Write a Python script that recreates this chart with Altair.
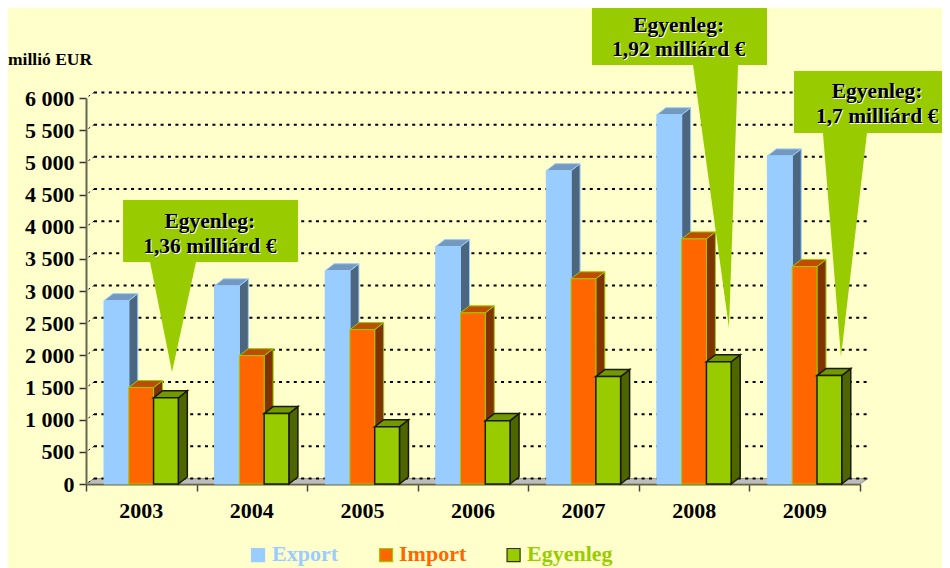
import altair as alt
import pandas as pd

# ---- values ----
YEARS = ["2003", "2004", "2005", "2006", "2007", "2008", "2009"]
EXPORT = [2850, 3080, 3315, 3690, 4870, 5740, 5100]
IMPORT = [1500, 1995, 2400, 2660, 3190, 3810, 3380]
BALANCE = [1340, 1095, 890, 985, 1670, 1900, 1685]
TICKS = [0, 500, 1000, 1500, 2000, 2500, 3000, 3500, 4000, 4500, 5000, 5500, 6000]

BG = "#FFFFCC"
SERIF = "Liberation Serif"

# 3D depth, in axis units (category widths / EUR millions)
DX, DY = 0.0814, 109
FLOOR_DX, FLOOR_DY = 0.0724, 85
BAR_W = 0.224

x_scale = alt.Scale(domain=[0, 7], nice=False, zero=False)
y_scale = alt.Scale(domain=[0, 6000], nice=False, zero=False)

x_axis = alt.Axis(values=list(range(8)), labels=False, tickSize=7, tickColor="#444444",
                  tickWidth=1.5, domainColor="#666633", domainWidth=2, grid=False, ticks=True)
y_axis = alt.Axis(values=TICKS, tickSize=7, tickColor="#333333", tickWidth=1.5,
                  domainColor="#666655", domainWidth=2, grid=False, labelPadding=5,
                  labelFont=SERIF, labelFontWeight="bold", labelFontSize=22,
                  labelColor="black",
                  labelExpr="replace(format(datum.value, ','), ',', ' ')")


def X(field="x"):
    return alt.X(f"{field}:Q", scale=x_scale, title=None, axis=x_axis)


def Y(field="y"):
    return alt.Y(f"{field}:Q", scale=y_scale, title=None, axis=y_axis)


def x2(field="x2"):
    return alt.X2(f"{field}")


def y2(field="y2"):
    return alt.Y2(f"{field}")


def bars(values, left, front, top, side, edge, width):
    fr, si, to = [], [], []
    for i, v in enumerate(values):
        a, b = i + left, i + left + BAR_W
        fr.append({"x": a, "x2": b, "y": 0, "y2": v})
        si.append({"id": i, "x": b, "y": 0, "y2": v})
        si.append({"id": i, "x": b + DX, "y": DY, "y2": v + DY})
        to.append({"id": i, "y": v, "x": a, "x2": b})
        to.append({"id": i, "y": v + DY, "x": a + DX, "x2": b + DX})
    side_l = alt.Chart(pd.DataFrame(si)).mark_area(
        color=side, stroke=edge, strokeWidth=width
    ).encode(x=X(), y=Y(), y2=y2(), detail="id:N")
    top_l = alt.Chart(pd.DataFrame(to)).mark_area(
        orient="horizontal", color=top, stroke=edge, strokeWidth=width
    ).encode(y=Y(), x=X(), x2=x2(), detail="id:N")
    front_l = alt.Chart(pd.DataFrame(fr)).mark_rect(
        color=front, stroke=edge, strokeWidth=width
    ).encode(x=X(), x2=x2(), y=Y(), y2=y2())
    return [side_l, top_l, front_l]


# floor
floor = alt.Chart(pd.DataFrame([
    {"y": 0, "x": 0, "x2": 7},
    {"y": FLOOR_DY, "x": FLOOR_DX, "x2": 7 + FLOOR_DX},
])).mark_area(orient="horizontal", color="#BDBDBD", stroke="#666666", strokeWidth=0.6).encode(
    y=Y(), x=X(), x2=x2()
)

# dotted back-wall grid
grid = alt.Chart(pd.DataFrame({
    "x": [FLOOR_DX] * len(TICKS),
    "x2": [7 + FLOOR_DX] * len(TICKS),
    "y": [t + FLOOR_DY for t in TICKS],
})).mark_rule(color="black", strokeWidth=2, strokeDash=[3, 4.4]).encode(x=X(), x2=x2(), y=Y())

# short dashes joining the axis ticks to the grid
links = alt.Chart(pd.DataFrame({
    "x": [0] * len(TICKS),
    "x2": [FLOOR_DX] * len(TICKS),
    "y": TICKS,
    "y2": [t + FLOOR_DY for t in TICKS],
})).mark_rule(color="black", strokeWidth=1, strokeDash=[2, 3], strokeDashOffset=2).encode(
    x=X(), x2=x2(), y=Y(), y2=y2()
)

export_l = bars(EXPORT, 0.163, "#99CCFF", "#7399BF", "#4D6680", "#99CCFF", 1)
import_l = bars(IMPORT, 0.387, "#FF6600", "#BF4D00", "#803300", "#99CC00", 1)
balance_l = bars(BALANCE, 0.611, "#99CC00", "#739900", "#4D6600", "#1A1A00", 1.5)

# callouts, in axis units
BOX_X = [0.335, 4.576, 6.403]
BOX_X2 = [1.917, 6.159, 7.814]
BOX_TOP = [4415, 7477, 6420]
BOX_BOTTOM = [3451, 6513, 5456]
TAIL_L = [0.579, 5.490, 6.665]
TAIL_R = [0.995, 5.897, 7.063]
TIP_X = [0.778, 5.815, 6.828]
TIP_Y = [1741, 2425, 1974]
LABEL_X = [1.12, 5.36, 7.155]
LINE1_Y = [3979, 7026, 6000]
LINE2_Y = [3591, 6653, 5612]
LINE2 = ["1,36 milliárd €", "1,92 milliárd €", "1,7 milliárd €"]

boxes = alt.Chart(pd.DataFrame({"x": BOX_X, "x2": BOX_X2, "y": BOX_BOTTOM, "y2": BOX_TOP})).mark_rect(
    color="#99CC00"
).encode(x=X(), x2=x2(), y=Y(), y2=y2())

tail_rows = []
for i in range(3):
    tail_rows.append({"id": i, "y": BOX_BOTTOM[i], "x": TAIL_L[i], "x2": TAIL_R[i]})
    tail_rows.append({"id": i, "y": TIP_Y[i], "x": TIP_X[i], "x2": TIP_X[i]})
tails = alt.Chart(pd.DataFrame(tail_rows)).mark_area(orient="horizontal", color="#99CC00").encode(
    y=Y(), x=X(), x2=x2(), detail="id:N"
)

note_df = pd.DataFrame({
    "x": LABEL_X * 2,
    "y": LINE1_Y + LINE2_Y,
    "t": ["Egyenleg:"] * 3 + LINE2,
})
note_style = dict(font=SERIF, fontWeight="bold", fontSize=21.5, align="center", baseline="alphabetic")
note_shadow = alt.Chart(note_df).mark_text(color="white", dx=1, dy=1, **note_style).encode(
    x=X(), y=Y(), text="t:N"
)
note_text = alt.Chart(note_df).mark_text(color="black", **note_style).encode(
    x=X(), y=Y(), text="t:N"
)

# category labels, unit label
years = alt.Chart(pd.DataFrame({
    "x": [i + 0.5 for i in range(len(YEARS))], "y": [-528] * len(YEARS), "t": YEARS,
})).mark_text(font=SERIF, fontWeight="bold", fontSize=22, color="black",
              align="center", baseline="alphabetic").encode(x=X(), y=Y(), text="t:N")

unit = alt.Chart(pd.DataFrame({"x": [-0.705], "y": [6510], "t": ["millió EUR"]})).mark_text(
    font=SERIF, fontWeight="bold", fontSize=17.5, color="black", align="left", baseline="alphabetic"
).encode(x=X(), y=Y(), text="t:N")

# hand-built legend (each label has its series' colour)
LEG_NAMES = ["Export", "Import", "Egyenleg"]
LEG_FILL = ["#99CCFF", "#FF6600", "#99CC00"]
LEG_EDGE = ["#99CCFF", "#99CC00", "#333300"]
LEG_TEXT = ["#99CCFF", "#FF6600", "#99CC00"]
LEG_SWATCH_X = [1.556, 2.714, 3.867]
LEG_TEXT_X = [1.682, 2.831, 3.988]

swatches = alt.Chart(pd.DataFrame({
    "x": LEG_SWATCH_X, "y": [-1104] * 3, "f": LEG_FILL, "e": LEG_EDGE,
})).mark_point(shape="square", filled=True, size=170, strokeWidth=1.2, opacity=1).encode(
    x=X(), y=Y(),
    fill=alt.Fill("f:N", scale=None),
    stroke=alt.Stroke("e:N", scale=None),
)
leg_text = alt.Chart(pd.DataFrame({
    "x": LEG_TEXT_X, "y": [-1200] * 3, "t": LEG_NAMES, "c": LEG_TEXT,
})).mark_text(font=SERIF, fontWeight="bold", fontSize=22, align="left", baseline="alphabetic").encode(
    x=X(), y=Y(), text="t:N", color=alt.Color("c:N", scale=None)
)

chart = alt.layer(
    floor, grid, links,
    *export_l, *import_l, *balance_l,
    tails, boxes, note_shadow, note_text,
    years, unit, swatches, leg_text,
).properties(
    width=774,
    height=386,
    background=BG,
    autosize=alt.AutoSizeParams(type="none"),
    padding={"left": 78, "top": 90, "right": 82, "bottom": 84},
).configure_view(stroke=None)

chart.save("out.html", embed_options={"renderer": "svg", "actions": False})
